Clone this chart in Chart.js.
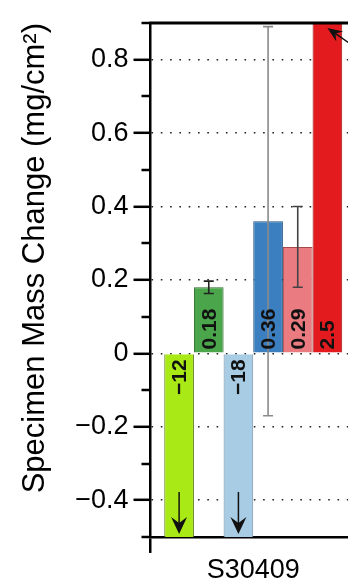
<!DOCTYPE html>
<html>
<head>
<meta charset="utf-8">
<script src="https://cdn.jsdelivr.net/npm/chart.js@4.4.1/dist/chart.umd.min.js"></script>
<style>
  html, body { margin: 0; padding: 0; overflow: hidden; background: #fff; }
  #wrap { width: 356px; height: 588px; }
</style>
</head>
<body>
<div id="wrap"><canvas id="massChart"></canvas></div>
<script>
// mass change per specimen, one bar per exposure condition
const categories = ['S30409'];
const values = [-12, 0.18, -18, 0.36, 0.29, 2.5];
const errors = [0, 0.017, 0, 0.53, 0.11, 0];
const barColors = ['#a9ea16', '#4ba54a', '#a8cce4', '#3c7fc0', '#ea7b80', '#e41b1e'];
const edgeColors = ['#5c7a18', '#2c6a2c', '#6d8da3', '#25517e', '#a5474b', '#9a1214'];
const errColors = ['#000', '#222', '#000', '#8a8a8a', '#444', '#000'];

const yMin = -0.5;
const yMax = 0.9;
const yTicks = [-0.4, -0.2, 0, 0.2, 0.4, 0.6, 0.8];
const yMinorTicks = [-0.5, -0.3, -0.1, 0.1, 0.3, 0.5, 0.7, 0.9];

Chart.defaults.font.family = '"Liberation Sans", Arial, Helvetica, sans-serif';
Chart.defaults.color = '#000';

const fmt = v => {
  if (Math.abs(v) < 1e-9) return '0';
  const s = Math.abs(v) >= 1 ? String(Math.abs(v)) : String(Math.round(Math.abs(v) * 100) / 100);
  return (v < 0 ? '\u2212' : '') + s;
};

function arrow(ctx, x0, y0, x1, y1, len, half) {
  const a = Math.atan2(y1 - y0, x1 - x0);
  const c = Math.cos(a), s = Math.sin(a);
  ctx.beginPath();
  ctx.moveTo(x0, y0);
  ctx.lineTo(x1 - c * len * 0.6, y1 - s * len * 0.6);
  ctx.stroke();
  ctx.beginPath();
  ctx.moveTo(x1, y1);
  ctx.lineTo(x1 - c * len - s * half, y1 - s * len + c * half);
  ctx.lineTo(x1 - c * len * 0.65, y1 - s * len * 0.65);
  ctx.lineTo(x1 - c * len + s * half, y1 - s * len - c * half);
  ctx.closePath();
  ctx.fill();
}

// error bars, value labels and off-scale arrows
const barMarks = {
  id: 'barMarks',
  afterDatasetsDraw(chart) {
    const ctx = chart.ctx;
    const y = chart.scales.y;
    const area = chart.chartArea;
    const zeroY = y.getPixelForValue(0);
    values.forEach((v, i) => {
      const bar = chart.getDatasetMeta(i).data[0];
      const x = bar.x;
      ctx.save();
      if (errors[i]) {
        const top = y.getPixelForValue(v + errors[i]);
        const bot = y.getPixelForValue(v - errors[i]);
        ctx.strokeStyle = errColors[i];
        ctx.lineWidth = 1.6;
        ctx.beginPath();
        ctx.moveTo(x, top); ctx.lineTo(x, bot);
        ctx.moveTo(x - 5, top); ctx.lineTo(x + 5, top);
        ctx.moveTo(x - 5, bot); ctx.lineTo(x + 5, bot);
        ctx.stroke();
      }
      ctx.fillStyle = '#111';
      ctx.font = 'bold 21px "Liberation Sans", Arial, sans-serif';
      ctx.textBaseline = 'middle';
      ctx.translate(x, v >= 0 ? zeroY - 4 : zeroY + 6);
      ctx.rotate(-Math.PI / 2);
      ctx.textAlign = v >= 0 ? 'left' : 'right';
      ctx.fillText(fmt(v), 0, 1);
      ctx.restore();

      ctx.save();
      ctx.strokeStyle = '#111';
      ctx.fillStyle = '#111';
      ctx.lineWidth = 1.5;
      if (v < yMin) {
        arrow(ctx, x, area.bottom - 45, x, area.bottom - 3, 17, 8);
      } else if (v > yMax) {
        arrow(ctx, x + 26, area.top + 23, x, area.top + 5, 15, 6);
      }
      ctx.restore();
    });
  },
  afterDraw(chart) {
    const ctx = chart.ctx;
    const y = chart.scales.y;
    const area = chart.chartArea;
    ctx.save();
    ctx.strokeStyle = '#000';
    ctx.lineWidth = 2.5;
    ctx.beginPath();
    yMinorTicks.forEach(v => {
      const py = Math.round(y.getPixelForValue(v));
      ctx.moveTo(area.left - 9, py);
      ctx.lineTo(area.left, py);
    });
    ctx.stroke();
    ctx.lineWidth = 3;
    ctx.beginPath();
    ctx.moveTo(area.left - 1, area.top);
    ctx.lineTo(chart.width, area.top);
    ctx.stroke();
    ctx.restore();
  }
};

new Chart(document.getElementById('massChart'), {
  type: 'bar',
  data: {
    labels: categories,
    datasets: values.map((v, i) => ({
      data: [v],
      backgroundColor: barColors[i],
      borderColor: edgeColors[i],
      borderWidth: 1,
      categoryPercentage: 0.866,
      barPercentage: 1
    }))
  },
  options: {
    responsive: true,
    maintainAspectRatio: false,
    animation: false,
    layout: { padding: { top: 23, left: 0, right: 0, bottom: 0 } },
    plugins: { legend: { display: false }, tooltip: { enabled: false } },
    scales: {
      x: {
        offset: true,
        grid: { display: true, drawOnChartArea: false, offset: true, tickLength: 16, color: '#000', lineWidth: 2.5 },
        border: { color: '#000', width: 2.5 },
        ticks: { color: '#000', font: { size: 27, lineHeight: 1.15 }, padding: 2 }
      },
      y: {
        min: yMin,
        max: yMax,
        afterBuildTicks: s => { s.ticks = yTicks.map(v => ({ value: v })); },
        ticks: { callback: v => fmt(v), color: '#000', font: { size: 27 }, padding: 5 },
        grid: { color: '#222', lineWidth: 1.6, tickLength: 17, tickColor: '#000', tickWidth: 2.5, tickBorderDash: [] },
        border: { color: '#000', width: 2.5, dash: [1.6, 7.7] },
        title: {
          display: true,
          text: 'Specimen Mass Change (mg/cm\u00b2)',
          color: '#000',
          font: { size: 31 },
          align: 'end',
          padding: { top: 17, bottom: 16 }
        }
      }
    }
  },
  plugins: [barMarks]
});
</script>
</body>
</html>
